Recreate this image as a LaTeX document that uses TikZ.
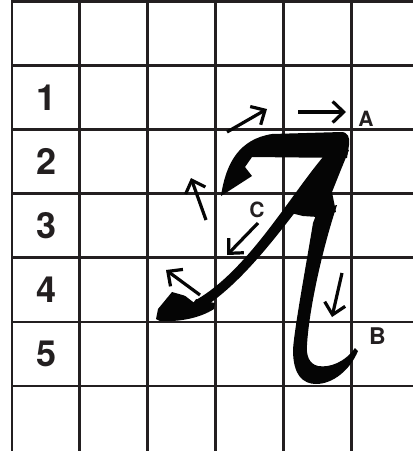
\documentclass[tikz,border=0pt]{standalone}
\usepackage{fontspec}
\setmainfont{TeX Gyre Heros}
\usetikzlibrary{arrows.meta}
\definecolor{gridline}{HTML}{231F20}
\definecolor{ink}{HTML}{050505}

\begin{document}
\begin{tikzpicture}[x=1pt, y=-1pt,
    cell/.style={draw=gridline, line width=2.8pt, line cap=rect},
    rownum/.style={font=\bfseries\fontsize{36}{36}\selectfont, text=gridline,
                   inner sep=0pt},
    ptlabel/.style={font=\bfseries\fontsize{21}{21}\selectfont, text=gridline,
                    inner sep=0pt},
    dirarrow/.style={-{Straight Barb[length=11pt, width=21pt]},
                     line width=3.2pt, ink},
  ]
    \useasboundingbox (0,0) rectangle (413,451);
    % grid
    \foreach \c in {0,...,5}
      \draw[cell] ({12+67.86*\c},1.5) -- ({12+67.86*\c},451);
    \foreach \r in {0,...,6}
      \draw[cell] (12,{1.5+64.08*\r}) -- (413,{1.5+64.08*\r});
    \foreach \r in {1,...,5}
      \node[rownum] (row\r) at (46.5,{1.5+64.08*\r+32.04}) {\r};

    % the letter: top bar with hook
    \fill[ink] (221,196) .. controls (226,162) and (240,139) .. (272,134)
      -- (341,132) .. controls (348,132) and (350,137) .. (349,145)
      -- (347,158) -- (252,157) -- (245,167) -- (252,176) -- cycle;
    % long stroke down to the left
    \fill[ink] (344,153) .. controls (302,194) and (248,293) .. (180,320)
      -- (178,308) .. controls (242,287) and (294,186) .. (332,147) -- cycle;
    \fill[ink] (156,319) -- (158,309) -- (172,292) -- (200,300) -- (215,303)
      -- (214,309) .. controls (200,318) and (180,322) .. (160,321) -- cycle;
    % wide top of the right leg and cross bar
    \fill[ink] (332,148) -- (349,150) -- (340,172) -- (332,192) -- (336,212)
      -- (318,217) -- (303,216) -- (291,213) -- (298,195) -- (315,170) -- cycle;
    % right leg
    \fill[ink] (318,210) -- (313,223) .. controls (307,260) and (294,330) .. (293,350)
      .. controls (293,375) and (303,384) .. (316,384)
      .. controls (333,384) and (350,370) .. (358,351)
      -- (355,348) .. controls (345,362) and (330,368) .. (318,366)
      .. controls (309,364) and (306,355) .. (307,345)
      .. controls (309,310) and (322,250) .. (337,205) -- cycle;
    \draw[white, line width=8pt] (196,299) -- (170,279);

    % stroke directions
    \draw[dirarrow] (227,132) -- (267,109);
    \draw[dirarrow] (298,112) -- (346,112);
    \draw[dirarrow] (206,220) -- (191,178);
    \draw[dirarrow] (258,223) -- (227,255);
    \draw[dirarrow] (200,295) -- (166,270);
    \draw[dirarrow] (342,273) -- (332,317);

    \node[ptlabel] (ptA) at (366,119) {A};
    \node[ptlabel] (ptC) at (257,209.5) {C};
    \node[ptlabel, font=\bfseries\fontsize{23}{23}\selectfont] (ptB) at (377.5,336.5) {B};
  \end{tikzpicture}
\end{document}
